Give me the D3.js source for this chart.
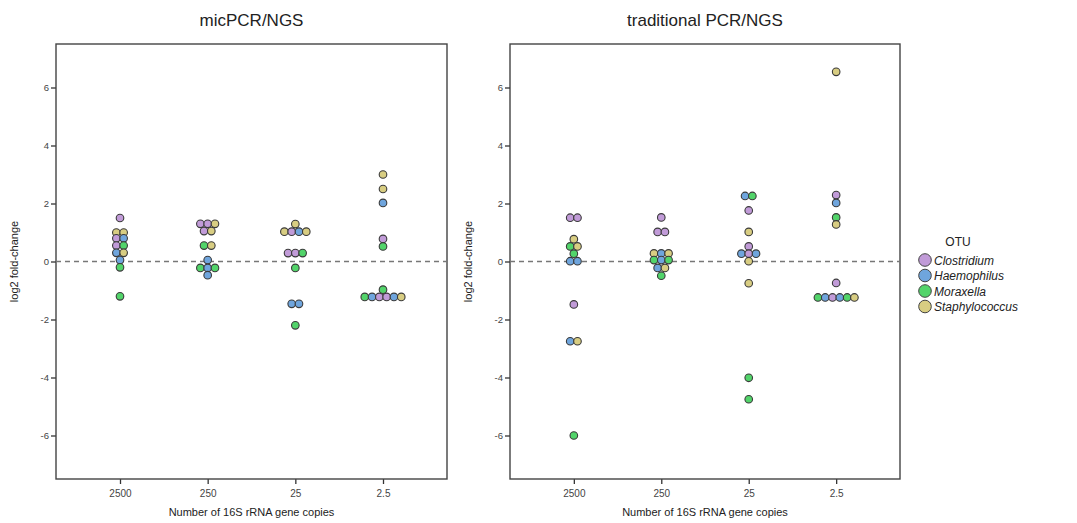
<!DOCTYPE html>
<html>
<head>
<meta charset="utf-8">
<script src="https://cdn.jsdelivr.net/npm/d3@7"></script>
<style>
  body { margin: 0; background: #fff; }
  text { font-family: "Liberation Sans", Arial, sans-serif; }
</style>
</head>
<body>
<svg id="chart" width="1077" height="523"></svg>
<script>
const copies = ["2500", "250", "25", "2.5"];
const otus = ["Clostridium", "Haemophilus", "Moraxella", "Staphylococcus"];
const otuColors = ["#c19bd8", "#6fa5dd", "#52d46a", "#d8cd82"];
const yTicks = [-6, -4, -2, 0, 2, 4, 6];

// [copies, otu, log2 fold-change]
const micPoints = [
  ["2500", "Clostridium", 1.5],
  ["2500", "Staphylococcus", 1.0], ["2500", "Staphylococcus", 1.0],
  ["2500", "Clostridium", 0.8], ["2500", "Haemophilus", 0.8],
  ["2500", "Clostridium", 0.55], ["2500", "Moraxella", 0.55],
  ["2500", "Haemophilus", 0.3], ["2500", "Staphylococcus", 0.3],
  ["2500", "Haemophilus", 0.05],
  ["2500", "Moraxella", -0.2],
  ["2500", "Moraxella", -1.2],

  ["250", "Clostridium", 1.3], ["250", "Clostridium", 1.3], ["250", "Staphylococcus", 1.3],
  ["250", "Clostridium", 1.05], ["250", "Staphylococcus", 1.05],
  ["250", "Moraxella", 0.55], ["250", "Staphylococcus", 0.55],
  ["250", "Haemophilus", 0.05],
  ["250", "Moraxella", -0.22], ["250", "Haemophilus", -0.22], ["250", "Moraxella", -0.22],
  ["250", "Haemophilus", -0.47],

  ["25", "Staphylococcus", 1.29],
  ["25", "Staphylococcus", 1.03], ["25", "Clostridium", 1.03], ["25", "Haemophilus", 1.03], ["25", "Staphylococcus", 1.03],
  ["25", "Clostridium", 0.29], ["25", "Clostridium", 0.29], ["25", "Moraxella", 0.29],
  ["25", "Moraxella", -0.22],
  ["25", "Haemophilus", -1.46], ["25", "Haemophilus", -1.46],
  ["25", "Moraxella", -2.2],

  ["2.5", "Staphylococcus", 3.0],
  ["2.5", "Staphylococcus", 2.5],
  ["2.5", "Haemophilus", 2.02],
  ["2.5", "Clostridium", 0.78],
  ["2.5", "Moraxella", 0.52],
  ["2.5", "Moraxella", -0.97],
  ["2.5", "Moraxella", -1.22], ["2.5", "Haemophilus", -1.22], ["2.5", "Clostridium", -1.22],
  ["2.5", "Clostridium", -1.22], ["2.5", "Haemophilus", -1.22], ["2.5", "Staphylococcus", -1.22]
];

const tradPoints = [
  ["2500", "Clostridium", 1.51], ["2500", "Clostridium", 1.51],
  ["2500", "Staphylococcus", 0.77],
  ["2500", "Moraxella", 0.52], ["2500", "Staphylococcus", 0.52],
  ["2500", "Moraxella", 0.27],
  ["2500", "Haemophilus", 0.01], ["2500", "Haemophilus", 0.01],
  ["2500", "Clostridium", -1.48],
  ["2500", "Haemophilus", -2.75], ["2500", "Staphylococcus", -2.75],
  ["2500", "Moraxella", -6.0],

  ["250", "Clostridium", 1.52],
  ["250", "Clostridium", 1.02], ["250", "Clostridium", 1.02],
  ["250", "Staphylococcus", 0.28], ["250", "Haemophilus", 0.28], ["250", "Staphylococcus", 0.28],
  ["250", "Moraxella", 0.05], ["250", "Haemophilus", 0.05], ["250", "Moraxella", 0.05],
  ["250", "Haemophilus", -0.22], ["250", "Staphylococcus", -0.22],
  ["250", "Moraxella", -0.49],

  ["25", "Haemophilus", 2.26], ["25", "Moraxella", 2.26],
  ["25", "Clostridium", 1.76],
  ["25", "Staphylococcus", 1.02],
  ["25", "Clostridium", 0.52],
  ["25", "Haemophilus", 0.27], ["25", "Clostridium", 0.27], ["25", "Haemophilus", 0.27],
  ["25", "Staphylococcus", 0.01],
  ["25", "Staphylococcus", -0.75],
  ["25", "Moraxella", -4.01],
  ["25", "Moraxella", -4.75],

  ["2.5", "Staphylococcus", 6.54],
  ["2.5", "Clostridium", 2.29],
  ["2.5", "Haemophilus", 2.02],
  ["2.5", "Moraxella", 1.52],
  ["2.5", "Staphylococcus", 1.28],
  ["2.5", "Clostridium", -0.74],
  ["2.5", "Moraxella", -1.24], ["2.5", "Haemophilus", -1.24], ["2.5", "Clostridium", -1.24],
  ["2.5", "Haemophilus", -1.24], ["2.5", "Moraxella", -1.24], ["2.5", "Staphylococcus", -1.24]
];

const svg = d3.select("#chart");
const color = d3.scaleOrdinal().domain(otus).range(otuColors);
const plotTop = 44, plotBottom = 479;
const dotStep = 7.3;

const panels = [
  { title: "micPCR/NGS", points: micPoints, x0: 56, x1: 447 },
  { title: "traditional PCR/NGS", points: tradPoints, x0: 510, x1: 900 }
];

const y = d3.scaleLinear().domain([-7.5, 7.5]).range([plotBottom, plotTop]);

panels.forEach(p => {
  const g = svg.append("g");
  const x = d3.scalePoint().domain(copies).range([p.x0, p.x1]).padding(0.73);

  g.append("text")
    .attr("x", (p.x0 + p.x1) / 2).attr("y", 26)
    .attr("text-anchor", "middle")
    .attr("font-size", 17).attr("fill", "#222")
    .text(p.title);

  // y axis (plain hyphen for negatives, like the original)
  const yAxis = g.append("g")
    .attr("transform", `translate(${p.x0},0)`)
    .call(d3.axisLeft(y).tickValues(yTicks).tickSize(5).tickPadding(2).tickFormat(d => String(d)));
  yAxis.select(".domain").remove();
  yAxis.selectAll("line").attr("stroke", "#333").attr("stroke-width", 1.3);
  yAxis.selectAll("text").attr("font-family", "DejaVu Sans, sans-serif").attr("font-size", 9.5).attr("fill", "#444");

  // x axis
  const xAxis = g.append("g")
    .attr("transform", `translate(0,${plotBottom})`)
    .call(d3.axisBottom(x).tickSize(5).tickPadding(6));
  xAxis.select(".domain").remove();
  xAxis.selectAll("line").attr("stroke", "#333").attr("stroke-width", 1.3);
  xAxis.selectAll("text").attr("font-family", "DejaVu Sans, sans-serif").attr("font-size", 10).attr("fill", "#444");

  g.append("rect")
    .attr("x", p.x0).attr("y", plotTop)
    .attr("width", p.x1 - p.x0).attr("height", plotBottom - plotTop)
    .attr("fill", "none").attr("stroke", "#444").attr("stroke-width", 1.4);

  g.append("text")
    .attr("transform", `translate(${p.x0 - 38},${y(0)}) rotate(-90)`)
    .attr("text-anchor", "middle")
    .attr("font-size", 11).attr("fill", "#222")
    .text("log2 fold-change");

  g.append("text")
    .attr("x", (p.x0 + p.x1) / 2).attr("y", 516)
    .attr("text-anchor", "middle")
    .attr("font-size", 11).attr("fill", "#222")
    .text("Number of 16S rRNA gene copies");

  // reference line at 0
  g.append("line")
    .attr("x1", p.x0).attr("x2", p.x1)
    .attr("y1", y(0)).attr("y2", y(0))
    .attr("stroke", "#777").attr("stroke-width", 1.5)
    .attr("stroke-dasharray", "5,4");

  // dots: points sharing a group and value sit side by side in a row
  const rows = d3.group(p.points, d => d[0] + "|" + d[2]);
  const dots = [];
  rows.forEach(list => {
    list.forEach((d, i) => {
      dots.push({ c: d[0], otu: d[1], v: d[2], off: (i - (list.length - 1) / 2) * dotStep });
    });
  });

  g.append("g").selectAll("circle")
    .data(dots)
    .join("circle")
    .attr("cx", d => x(d.c) + d.off)
    .attr("cy", d => y(d.v))
    .attr("r", 3.8)
    .attr("fill", d => color(d.otu))
    .attr("stroke", "#3a3a3a")
    .attr("stroke-width", 1.1);
});

// legend
const legend = svg.append("g").attr("transform", "translate(925,0)");
legend.append("text")
  .attr("x", 33).attr("y", 246)
  .attr("text-anchor", "middle")
  .attr("font-size", 12).attr("fill", "#222")
  .text("OTU");
otus.forEach((o, i) => {
  const ly = 260 + i * 15.5;
  legend.append("circle")
    .attr("cx", 0).attr("cy", ly).attr("r", 6.3)
    .attr("fill", color(o)).attr("stroke", "#444").attr("stroke-width", 1);
  legend.append("text")
    .attr("x", 9).attr("y", ly + 4.5)
    .attr("font-size", 12).attr("font-style", "italic").attr("fill", "#222")
    .text(o);
});
</script>
</body>
</html>
